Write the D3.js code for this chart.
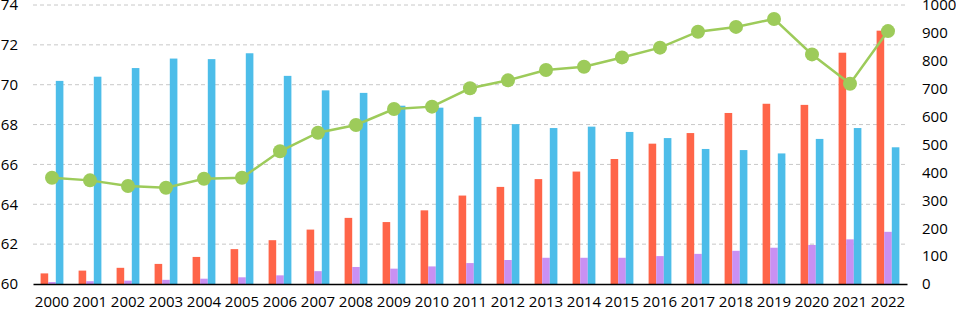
<!DOCTYPE html>
<html>
<head>
<meta charset="utf-8">
<script src="https://cdn.jsdelivr.net/npm/d3@7"></script>
<style>
  body { margin: 0; background: #fff; }
  text { font-family: "Open Sans", sans-serif; }
</style>
</head>
<body>
<div id="chart"></div>
<script>
// data
var years = ["2000","2001","2002","2003","2004","2005","2006","2007","2008","2009","2010",
  "2011","2012","2013","2014","2015","2016","2017","2018","2019","2020","2021","2022"];
var redValues = [38, 48, 58, 72, 97, 125, 157, 195, 237, 222, 264,
  317, 348, 376, 403, 448, 503, 541, 613, 646, 642, 829, 908];
var purpleValues = [7, 10, 12, 15, 19, 24, 31, 46, 61, 55, 63,
  75, 86, 94, 94, 94, 100, 108, 119, 130, 140, 160, 187];
var blueValues = [728, 743, 774, 808, 806, 827, 746, 694, 685, 639, 632,
  599, 573, 559, 564, 545, 523, 484, 480, 468, 520, 559, 490];
var lineValues = [65.33, 65.2, 64.92, 64.83, 65.28, 65.33, 66.66, 67.59, 67.98, 68.78, 68.9,
  69.82, 70.22, 70.74, 70.9, 71.37, 71.86, 72.66, 72.9, 73.3, 71.52, 70.05, 72.69];
var leftTicks = [60, 62, 64, 66, 68, 70, 72, 74];
var rightTicks = [0, 100, 200, 300, 400, 500, 600, 700, 800, 900, 1000];

var margin = { top: 5, right: 49, bottom: 27, left: 33 },
  width = 956 - margin.left - margin.right,
  height = 311 - margin.top - margin.bottom;

var svg = d3.select("#chart")
  .append("svg")
  .attr("width", 956)
  .attr("height", 311)
  .append("g")
  .attr("transform", "translate(" + margin.left + "," + margin.top + ")");

var x = d3.scaleBand().domain(years).range([0, width]);
var yLeft = d3.scaleLinear().domain([60, 74]).range([height, 0]);
var yRight = d3.scaleLinear().domain([0, 1000]).range([height, 0]);

// gridlines (left axis)
svg.append("g")
  .selectAll("line")
  .data(leftTicks.slice(1))
  .enter()
  .append("line")
  .attr("x1", 0)
  .attr("x2", width)
  .attr("y1", function (d) { return yLeft(d); })
  .attr("y2", function (d) { return yLeft(d); })
  .attr("stroke", "#c8c8c8")
  .attr("stroke-width", 1)
  .attr("stroke-dasharray", "4,3");

// left axis labels
var leftAxis = svg.append("g")
  .call(d3.axisLeft(yLeft).tickValues(leftTicks).tickSize(0).tickPadding(15));
leftAxis.select(".domain").remove();
leftAxis.selectAll("text").style("font-size", "15px").attr("fill", "#000");

// right axis labels
var rightAxis = svg.append("g")
  .attr("transform", "translate(" + width + ",0)")
  .call(d3.axisRight(yRight).tickValues(rightTicks).tickFormat(d3.format("d"))
    .tickSize(0).tickPadding(15));
rightAxis.select(".domain").remove();
rightAxis.selectAll("text").style("font-size", "15px").attr("fill", "#000");

// bars
var series = [
  { values: redValues, color: "#ff6549" },
  { values: purpleValues, color: "#c990f2" },
  { values: blueValues, color: "#4dbde9" }
];
var sub = d3.scaleBand().domain([0, 1, 2])
  .range([x.bandwidth() * 0.2, x.bandwidth() * 0.8]);

series.forEach(function (s, i) {
  svg.append("g")
    .selectAll("rect")
    .data(s.values)
    .enter()
    .append("rect")
    .attr("x", function (d, j) { return x(years[j]) + sub(i); })
    .attr("y", function (d) { return yRight(d); })
    .attr("width", sub.bandwidth())
    .attr("height", function (d) { return height - yRight(d); })
    .attr("fill", s.color);
});

// x axis
var xAxis = svg.append("g")
  .attr("transform", "translate(0," + height + ")")
  .call(d3.axisBottom(x).tickSize(0).tickPadding(12));
xAxis.select(".domain").attr("stroke", "#000").attr("stroke-width", 1.5);
xAxis.selectAll("text").style("font-size", "15px").attr("fill", "#000");

// line
var line = d3.line()
  .x(function (d, i) { return x(years[i]) + x.bandwidth() / 2; })
  .y(function (d) { return yLeft(d); });

svg.append("path")
  .datum(lineValues)
  .attr("fill", "none")
  .attr("stroke", "#9dcb5a")
  .attr("stroke-width", 2.5)
  .attr("d", line);

svg.append("g")
  .selectAll("circle")
  .data(lineValues)
  .enter()
  .append("circle")
  .attr("cx", function (d, i) { return x(years[i]) + x.bandwidth() / 2; })
  .attr("cy", function (d) { return yLeft(d); })
  .attr("r", 7)
  .attr("fill", "#9dcb5a");
</script>
</body>
</html>
